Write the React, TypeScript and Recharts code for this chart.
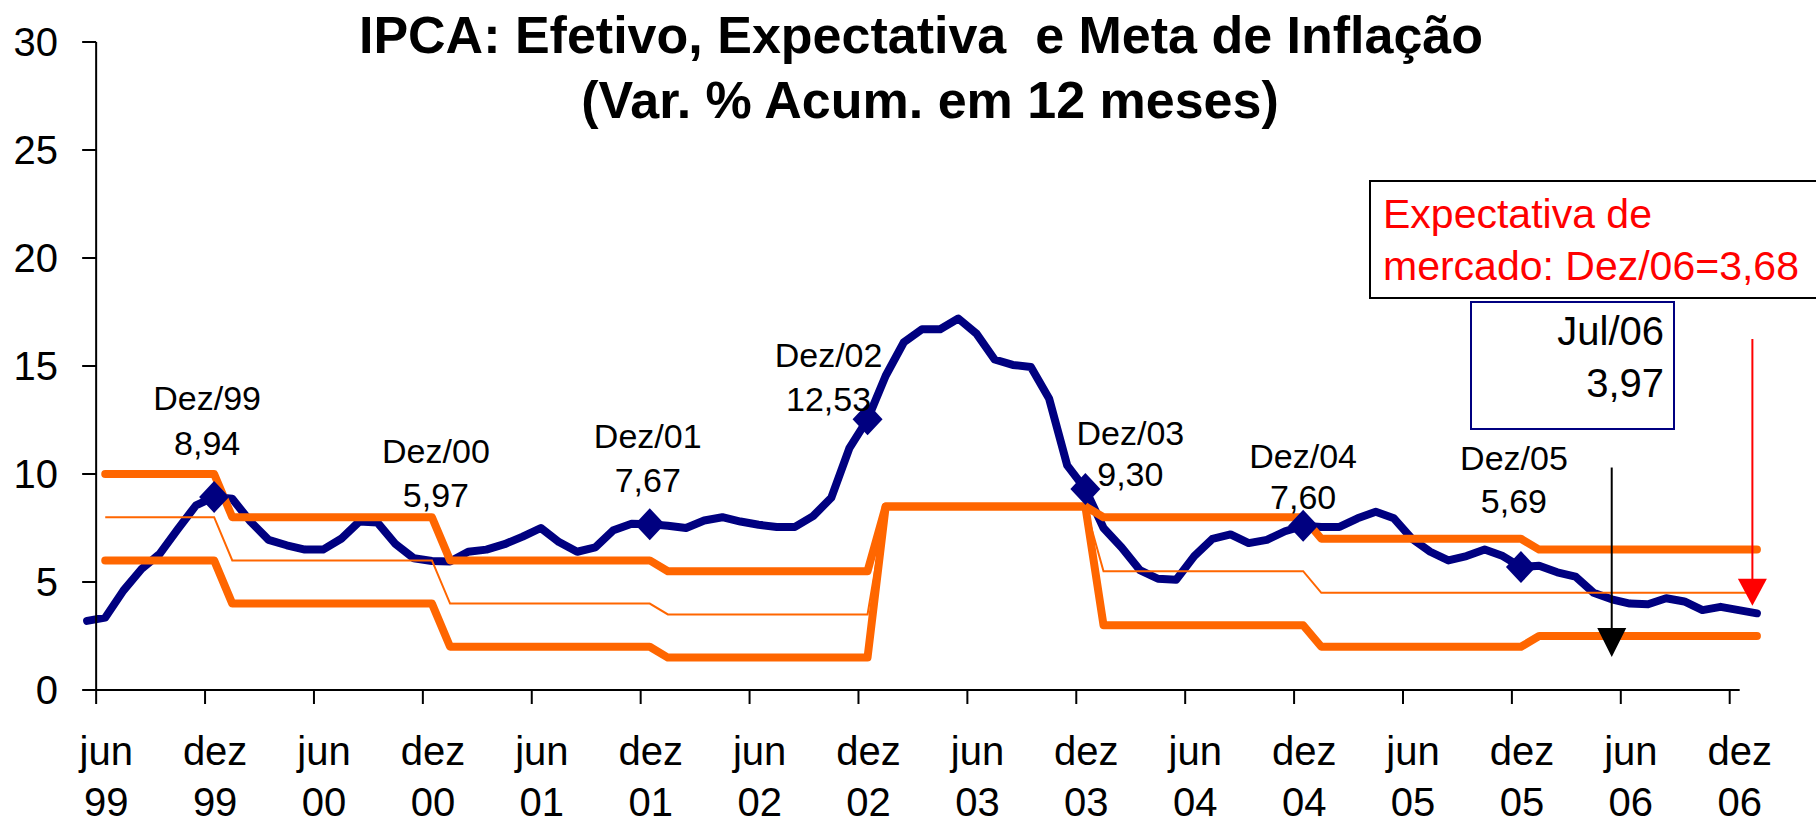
import React from 'react';
import {
  ComposedChart,
  Line,
  Scatter,
  XAxis,
  YAxis,
  ReferenceLine,
  ReferenceDot,
} from 'recharts';

// índice mensal: 0 = mai/99 ... 92 = jan/07
// IPCA acumulado em 12 meses (efetivo até jul/06, depois expectativa)
const ipca = [
  3.2, 3.35, 4.6, 5.6, 6.3, 7.45, 8.55, 8.94, // 1999 mai-dez
  8.85, 7.8, 6.95, 6.7, 6.5, 6.5, 7.0, 7.8, 7.75, 6.75, 6.1, 5.97, // 2000
  5.95, 6.4, 6.5, 6.75, 7.1, 7.5, 6.85, 6.4, 6.6, 7.4, 7.7, 7.67, // 2001
  7.6, 7.5, 7.85, 8.0, 7.8, 7.65, 7.55, 7.55, 8.05, 8.9, 11.2, 12.53, // 2002
  14.55, 16.1, 16.7, 16.7, 17.2, 16.5, 15.3, 15.05, 14.95, 13.5, 10.4, 9.3, // 2003
  7.5, 6.6, 5.55, 5.15, 5.1, 6.2, 7.0, 7.2, 6.8, 6.95, 7.35, 7.6, // 2004
  7.55, 7.55, 7.95, 8.25, 7.95, 7.0, 6.4, 6.0, 6.2, 6.5, 6.2, 5.69, // 2005
  5.75, 5.45, 5.25, 4.5, 4.2, 4.0, 3.97, 4.25, 4.1, 3.7, 3.85, 3.7, // 2006
  3.55, // jan/07
];

// metas a partir de jun/99 (índice 1)
const metaSup = [
  10, 10, 10, 10, 10, 10, 10,
  8, 8, 8, 8, 8, 8, 8, 8, 8, 8, 8, 8,
  6, 6, 6, 6, 6, 6, 6, 6, 6, 6, 6, 6,
  5.5, 5.5, 5.5, 5.5, 5.5, 5.5, 5.5, 5.5, 5.5, 5.5, 5.5, 5.5,
  8.5, 8.5, 8.5, 8.5, 8.5, 8.5, 8.5, 8.5, 8.5, 8.5, 8.5, 8.5,
  8, 8, 8, 8, 8, 8, 8, 8, 8, 8, 8, 8,
  7, 7, 7, 7, 7, 7, 7, 7, 7, 7, 7, 7,
  6.5, 6.5, 6.5, 6.5, 6.5, 6.5, 6.5, 6.5, 6.5, 6.5, 6.5, 6.5, 6.5,
];
const metaCentro = [
  8, 8, 8, 8, 8, 8, 8,
  6, 6, 6, 6, 6, 6, 6, 6, 6, 6, 6, 6,
  4, 4, 4, 4, 4, 4, 4, 4, 4, 4, 4, 4,
  3.5, 3.5, 3.5, 3.5, 3.5, 3.5, 3.5, 3.5, 3.5, 3.5, 3.5, 3.5,
  8.5, 8.5, 8.5, 8.5, 8.5, 8.5, 8.5, 8.5, 8.5, 8.5, 8.5, 8.5,
  5.5, 5.5, 5.5, 5.5, 5.5, 5.5, 5.5, 5.5, 5.5, 5.5, 5.5, 5.5,
  4.5, 4.5, 4.5, 4.5, 4.5, 4.5, 4.5, 4.5, 4.5, 4.5, 4.5, 4.5,
  4.5, 4.5, 4.5, 4.5, 4.5, 4.5, 4.5, 4.5, 4.5, 4.5, 4.5, 4.5, 4.5,
];
const metaInf = [
  6, 6, 6, 6, 6, 6, 6,
  4, 4, 4, 4, 4, 4, 4, 4, 4, 4, 4, 4,
  2, 2, 2, 2, 2, 2, 2, 2, 2, 2, 2, 2,
  1.5, 1.5, 1.5, 1.5, 1.5, 1.5, 1.5, 1.5, 1.5, 1.5, 1.5, 1.5,
  8.5, 8.5, 8.5, 8.5, 8.5, 8.5, 8.5, 8.5, 8.5, 8.5, 8.5, 8.5,
  3, 3, 3, 3, 3, 3, 3, 3, 3, 3, 3, 3,
  2, 2, 2, 2, 2, 2, 2, 2, 2, 2, 2, 2,
  2.5, 2.5, 2.5, 2.5, 2.5, 2.5, 2.5, 2.5, 2.5, 2.5, 2.5, 2.5, 2.5,
];

// pontos de dezembro destacados
const destaques = [
  { mes: 'Dez/99', i: 7 },
  { mes: 'Dez/00', i: 19 },
  { mes: 'Dez/01', i: 31 },
  { mes: 'Dez/02', i: 43 },
  { mes: 'Dez/03', i: 55 },
  { mes: 'Dez/04', i: 67 },
  { mes: 'Dez/05', i: 79 },
];
const semMarcador = ['Dez/00'];

const rotulosX = [
  ['jun', '99'], ['dez', '99'], ['jun', '00'], ['dez', '00'],
  ['jun', '01'], ['dez', '01'], ['jun', '02'], ['dez', '02'],
  ['jun', '03'], ['dez', '03'], ['jun', '04'], ['dez', '04'],
  ['jun', '05'], ['dez', '05'], ['jun', '06'], ['dez', '06'],
];
const ticksX = rotulosX.map((_, k) => 0.5 + k * 6);
const ticksY = [0, 5, 10, 15, 20, 25, 30];

// --- layout ---
const W = 1816;
const H = 825;
const FONTE = '"Liberation Sans", Arial, Helvetica, sans-serif';
const LARG_EIXO_Y = 78;
const ALT_EIXO_X = 135;
const MARGEM = { top: 42, right: 50, bottom: 0, left: 0 };
const DOMINIO_X: [number, number] = [-0.5, 92.5];
const PASSO = (W - MARGEM.right - LARG_EIXO_Y) / (DOMINIO_X[1] - DOMINIO_X[0]);
const BASE_PLOT = H - ALT_EIXO_X;
const EIXO_Y_PX = LARG_EIXO_Y + (ticksX[0] - DOMINIO_X[0]) * PASSO;
const LARANJA = '#FF6600';
const AZUL = '#000080';

// deslocamento dos rótulos em relação ao ponto (px)
const posRotulo: Record<string, { dx: number; dy1: number; dy2: number }> = {
  'Dez/99': { dx: -7, dy1: -87, dy2: -42 },
  'Dez/00': { dx: 4, dy1: -98, dy2: -54 },
  'Dez/01': { dx: -2, dy1: -76, dy2: -32 },
  'Dez/02': { dx: -39, dy1: -52, dy2: -8 },
  'Dez/03': { dx: 45, dy1: -44, dy2: -3 },
  'Dez/04': { dx: 0, dy1: -58, dy2: -17 },
  'Dez/05': { dx: -7, dy1: -97, dy2: -54 },
};

const tabela = ipca.map((v, i) => ({
  i,
  ipca: v,
  sup: i >= 1 ? metaSup[i - 1] : null,
  centro: i >= 1 ? metaCentro[i - 1] : null,
  inf: i >= 1 ? metaInf[i - 1] : null,
}));

const marcadores = destaques.map((d) => ({ i: d.i, v: ipca[d.i], mes: d.mes }));

const fmt = (v: number) => v.toFixed(2).replace('.', ',');

function TickY(props: any) {
  const { y, payload } = props;
  return (
    <g>
      <line x1={EIXO_Y_PX - 14} x2={EIXO_Y_PX} y1={y} y2={y} stroke="#000" strokeWidth={2} />
      <text x={58} y={y} dy="0.36em" textAnchor="end" fontSize={40} fontFamily={FONTE} fill="#000">
        {payload.value}
      </text>
    </g>
  );
}

function TickX(props: any) {
  const { x, payload } = props;
  const k = Math.round((payload.value - ticksX[0]) / 6);
  const rot = rotulosX[k] || ['', ''];
  const cx = x + PASSO / 2 + 1;
  return (
    <g>
      <line x1={x} x2={x} y1={BASE_PLOT} y2={BASE_PLOT + 14} stroke="#000" strokeWidth={2} />
      <text x={cx} y={BASE_PLOT + 75} textAnchor="middle" fontSize={40} fontFamily={FONTE} fill="#000">
        {rot[0]}
      </text>
      <text x={cx} y={BASE_PLOT + 126} textAnchor="middle" fontSize={40} fontFamily={FONTE} fill="#000">
        {rot[1]}
      </text>
    </g>
  );
}

function Marcador(props: any) {
  const { cx, cy, payload } = props;
  if (cx == null || cy == null) return null;
  const p = posRotulo[payload.mes];
  const losango = !semMarcador.includes(payload.mes);
  return (
    <g>
      {losango && (
        <polygon
          points={`${cx},${cy - 16} ${cx + 15},${cy} ${cx},${cy + 16} ${cx - 15},${cy}`}
          fill={AZUL}
        />
      )}
      <text x={cx + p.dx} y={cy + p.dy1} textAnchor="middle" fontSize={34} fontFamily={FONTE} fill="#000">
        {payload.mes}
      </text>
      <text x={cx + p.dx} y={cy + p.dy2} textAnchor="middle" fontSize={34} fontFamily={FONTE} fill="#000">
        {fmt(payload.v)}
      </text>
    </g>
  );
}

const ponta = (cor: string, alt: number, meia: number) => (props: any) => {
  const { cx, cy } = props;
  return <polygon points={`${cx},${cy} ${cx - meia},${cy - alt} ${cx + meia},${cy - alt}`} fill={cor} />;
};

export default function App() {
  return (
    <div style={{ position: 'absolute', left: 0, top: 0, width: W, height: H, background: '#fff' }}>
      <ComposedChart width={W} height={H} data={tabela} margin={MARGEM}>
        <XAxis
          type="number"
          dataKey="i"
          domain={DOMINIO_X}
          ticks={ticksX}
          interval={0}
          tick={(p: any) => <TickX {...p} />}
          tickLine={false}
          axisLine={false}
          height={ALT_EIXO_X}
          allowDataOverflow
        />
        <YAxis
          type="number"
          domain={[0, 30]}
          ticks={ticksY}
          interval={0}
          tick={(p: any) => <TickY {...p} />}
          tickLine={false}
          axisLine={false}
          width={LARG_EIXO_Y}
          allowDataOverflow
        />
        <Line
          type="linear"
          dataKey="ipca"
          stroke={AZUL}
          strokeWidth={8}
          strokeLinecap="round"
          strokeLinejoin="round"
          dot={false}
          activeDot={false}
          isAnimationActive={false}
        />
        <Line
          type="linear"
          dataKey="sup"
          stroke={LARANJA}
          strokeWidth={8}
          strokeLinecap="round"
          strokeLinejoin="round"
          dot={false}
          activeDot={false}
          isAnimationActive={false}
        />
        <Line
          type="linear"
          dataKey="centro"
          stroke={LARANJA}
          strokeWidth={2}
          dot={false}
          activeDot={false}
          isAnimationActive={false}
        />
        <Line
          type="linear"
          dataKey="inf"
          stroke={LARANJA}
          strokeWidth={8}
          strokeLinecap="round"
          strokeLinejoin="round"
          dot={false}
          activeDot={false}
          isAnimationActive={false}
        />
        <ReferenceLine x={ticksX[0]} stroke="#000" strokeWidth={2} />
        <ReferenceLine
          segment={[{ x: ticksX[0], y: 0 }, { x: 91.05, y: 0 }]}
          stroke="#000"
          strokeWidth={2}
        />
        <ReferenceLine segment={[{ x: 84, y: 10.3 }, { x: 84, y: 2.5 }]} stroke="#000" strokeWidth={2} />
        <ReferenceDot x={84} y={1.53} r={1} shape={ponta('#000', 29, 14.5)} />
        <ReferenceLine segment={[{ x: 91.75, y: 16.25 }, { x: 91.75, y: 4.8 }]} stroke="#FF0000" strokeWidth={2} />
        <ReferenceDot x={91.75} y={3.9} r={1} shape={ponta('#FF0000', 27, 14.5)} />
        <Scatter data={marcadores} dataKey="v" shape={(p: any) => <Marcador {...p} />} isAnimationActive={false} />
      </ComposedChart>
      <svg
        width={W}
        height={H}
        style={{ position: 'absolute', left: 0, top: 0, pointerEvents: 'none' }}
        fontFamily={FONTE}
      >
        <text x={921} y={53} textAnchor="middle" fontSize={52} fontWeight="bold" xmlSpace="preserve" style={{ whiteSpace: 'pre' }}>
          IPCA: Efetivo, Expectativa  e Meta de Inflação
        </text>
        <text x={930} y={118} textAnchor="middle" fontSize={52} fontWeight="bold">
          (Var. % Acum. em 12 meses)
        </text>
        <rect x={1370} y={181} width={480} height={117} fill="#fff" stroke="#000" strokeWidth={2} />
        <text x={1383} y={228} fontSize={41} fill="#FF0000">Expectativa de</text>
        <text x={1383} y={280} fontSize={41} fill="#FF0000">mercado: Dez/06=3,68</text>
        <rect x={1471} y={302} width={203} height={127} fill="#fff" stroke={AZUL} strokeWidth={2} />
        <text x={1664} y={345} textAnchor="end" fontSize={40} fill="#000">Jul/06</text>
        <text x={1664} y={397} textAnchor="end" fontSize={40} fill="#000">3,97</text>
      </svg>
    </div>
  );
}
